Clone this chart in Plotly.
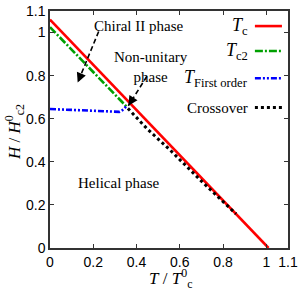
import plotly.graph_objects as go

# ---- data ----
tc_T = [0.0, 1.01]
tc_H = [1.06, 0.0]

tc2_T = [0.0, 0.355]
tc2_H = [1.025, 0.655]

first_T = [0.0, 0.1, 0.2, 0.28, 0.32, 0.34, 0.352]
first_H = [0.645, 0.641, 0.636, 0.632, 0.632, 0.643, 0.658]

cross_T = [0.36, 0.45, 0.56, 0.70, 0.86]
cross_H = [0.648, 0.552, 0.45, 0.31, 0.158]

x_ticks = [0, 0.2, 0.4, 0.6, 0.8, 1, 1.1]
y_ticks = [0, 0.2, 0.4, 0.6, 0.8, 1, 1.1]

SERIF = "Liberation Serif, Times New Roman, DejaVu Serif, serif"
SANS = "Liberation Sans, Arial, sans-serif"

styles = [
    dict(color="#ff0000", dash="solid", width=2.6),
    dict(color="#00a000", dash="8px,2px,2px,2px", width=2.6),
    dict(color="#0000ff", dash="6px,2px,2px,2px,2px,2px", width=2.6),
    dict(color="#000000", dash="3px,3px", width=3),
]
series = [(tc_T, tc_H), (tc2_T, tc2_H), (first_T, first_H), (cross_T, cross_H)]
labels = ["<i>T</i><sub>c</sub>", "<i>T</i><sub>c2</sub>",
          "<i>T</i><sub>First order</sub>", "Crossover"]

fig = go.Figure()
for (xs, ys), st in zip(series, styles):
    fig.add_trace(go.Scatter(x=xs, y=ys, mode="lines", showlegend=False, hoverinfo="skip",
                             line=dict(color=st["color"], dash=st["dash"], width=st["width"])))

shapes = []
annotations = []

# custom legend (labels on left, samples on right)
leg_y = [1.030, 0.914, 0.788, 0.652]
for ly, st, lab in zip(leg_y, styles, labels):
    shapes.append(dict(type="line", xref="x", yref="y", x0=0.947, x1=1.072, y0=ly, y1=ly,
                       line=dict(color=st["color"], dash=st["dash"], width=st["width"])))
    size = 18 if lab.startswith("<i>") else 15
    annotations.append(dict(x=0.926, y=ly, xref="x", yref="y", text=lab, showarrow=False,
                            xanchor="right", yanchor="middle",
                            font=dict(family=SERIF, size=size, color="black")))

# phase labels
annotations.append(dict(x=0.407, y=1.03, xref="x", yref="y", text="Chiral II phase",
                        showarrow=False, font=dict(family=SERIF, size=15, color="black")))
annotations.append(dict(x=0.465, y=0.84, xref="x", yref="y", text="Non-unitary<br>phase",
                        showarrow=False, font=dict(family=SERIF, size=15, color="black")))
annotations.append(dict(x=0.32, y=0.3, xref="x", yref="y", text="Helical phase",
                        showarrow=False, font=dict(family=SERIF, size=15, color="black")))

# dashed arrows
arrows = [((0.225, 1.005), (0.128, 0.768)), ((0.448, 0.797), (0.362, 0.66))]
for (x0, y0), (x1, y1) in arrows:
    shapes.append(dict(type="line", xref="x", yref="y", x0=x0, y0=y0, x1=x1, y1=y1,
                       line=dict(color="black", dash="5px,3px", width=1.6)))
    dx = (x0 - x1) * 216.4
    dy = (y0 - y1) * 214
    L = (dx ** 2 + dy ** 2) ** 0.5
    annotations.append(dict(x=x1, y=y1, xref="x", yref="y", ax=x1 + (x0 - x1) * 8 / L,
                            ay=y1 + (y0 - y1) * 8 / L, axref="x", ayref="y", text="",
                            showarrow=True, arrowhead=2, arrowsize=1.2, arrowwidth=1.6,
                            arrowcolor="black"))

# axis titles as annotations (pixel-precise placement, plot area 238 x 237)
annotations.append(dict(x=(170 - 50) / 238, y=-(278 - 248) / 237, xref="paper", yref="paper",
                        text="<i>T</i> / <i>T</i><sup>0</sup><sub>c</sub>", showarrow=False,
                        xanchor="center", yanchor="middle",
                        font=dict(family=SERIF, size=17, color="black")))
annotations.append(dict(x=-(50 - 14) / 238, y=(248 - 132) / 237, xref="paper", yref="paper",
                        text="<i>H</i> / <i>H</i><sup>0</sup><sub>c2</sub>", showarrow=False,
                        textangle=-90, xanchor="center", yanchor="middle",
                        font=dict(family=SERIF, size=17, color="black")))

axis_common = dict(showline=True, linecolor="#333333", linewidth=1.5, mirror="ticks",
                   ticks="inside", ticklen=4, tickwidth=1, tickcolor="#333333",
                   showgrid=False, zeroline=False, automargin=False,
                   tickfont=dict(family=SANS, size=14, color="black"))

fig.update_layout(
    width=300, height=292,
    margin=dict(l=50, r=12, t=11, b=44, autoexpand=False),
    plot_bgcolor="white", paper_bgcolor="white",
    xaxis=dict(range=[0, 1.1], tickvals=x_ticks, ticktext=[str(v) for v in x_ticks],
               **axis_common),
    yaxis=dict(range=[0, 1.1], tickvals=y_ticks, ticktext=[str(v) for v in y_ticks],
               **axis_common),
    shapes=shapes, annotations=annotations, showlegend=False,
)

# remove the browser's default 8px body margin so the figure fills the window
fig.write_html("out.html", config={"displayModeBar": False},
               post_script="document.body.style.margin='0';")
